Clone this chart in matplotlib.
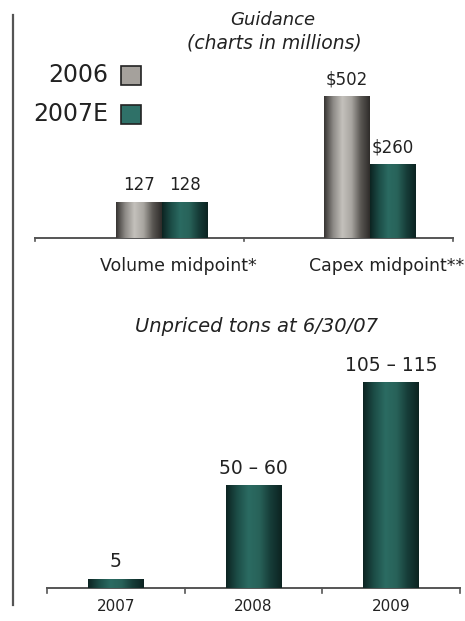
"""Guidance and unpriced tons bar charts"""

#%% Importing modules
import numpy as np
import matplotlib
matplotlib.use('Agg')
import matplotlib.pyplot as plt
from matplotlib.colors import LinearSegmentedColormap
from matplotlib.lines import Line2D
from matplotlib.patches import Rectangle

plt.rcParams['font.family'] = ['DejaVu Sans']

#%% Data
guidance_groups = ['Volume midpoint*', 'Capex midpoint**']
vals_2006 = [127, 502]
vals_2007e = [128, 260]
text_2006 = ['127', '$502']
text_2007e = ['128', '$260']

years = ['2007', '2008', '2009']
tons_low = [5, 50, 105]
tons_high = [5, 60, 115]
tons_text = ['5', '50 \u2013 60', '105 \u2013 115']

#%% Colours
gray_cmap = LinearSegmentedColormap.from_list(
    'gray_cyl', ['#363331', '#8d8a86', '#c4c1bc', '#a8a5a0', '#5a5753', '#2e2b29'])
teal_cmap = LinearSegmentedColormap.from_list(
    'teal_cyl', ['#0c2321', '#1c4d47', '#2b6b62', '#286259', '#163c38', '#0c2321'])
text_col = '#222222'
axis_col = '#555555'


def shade_bars(ax, bars, cmap):
    # paint a horizontal gradient inside each bar so it looks like a cylinder
    grad = np.linspace(0, 1, 256).reshape(1, -1)
    for b in bars:
        x0, y0 = b.get_x(), b.get_y()
        w, h = b.get_width(), b.get_height()
        im = ax.imshow(grad, cmap=cmap, aspect='auto',
                       extent=(x0, x0 + w, y0, y0 + h), zorder=3)
        im.set_clip_path(b)


def style_axis(ax):
    for s in ['top', 'right', 'left']:
        ax.spines[s].set_visible(False)
    ax.spines['bottom'].set_color(axis_col)
    ax.spines['bottom'].set_linewidth(1.4)
    ax.set_yticks([])
    ax.tick_params(axis='x', which='both', length=0, colors=text_col)


#%% Figure
fig = plt.figure(figsize=(4.65, 6.21), dpi=100)

# left rule
fig.add_artist(Line2D([13 / 465, 13 / 465], [1 - 15 / 621, 1 - 605 / 621],
                      color=axis_col, lw=1.6))

#%% Top chart: guidance
ax1 = fig.add_axes([35 / 465, 1 - 238 / 621, 418 / 465, 218 / 621])
centers = np.array([0.608, 1.603])
bw = 0.22
b06 = ax1.bar(centers - bw / 2, vals_2006, bw, color='#a09d98', zorder=2)
b07 = ax1.bar(centers + bw / 2, vals_2007e, bw, color='#1f524b', zorder=2)
shade_bars(ax1, b06, gray_cmap)
shade_bars(ax1, b07, teal_cmap)
ax1.set_xlim(0, 2)
ax1.set_ylim(0, 218 * 502 / 142)
style_axis(ax1)
ax1.set_xticks([])
for x in [0, 1, 2]:
    ax1.plot([x, x], [0, -10], color=axis_col, lw=1.2, clip_on=False)

for x, v, t in zip(centers - bw / 2, vals_2006, text_2006):
    ax1.text(x, v + 28, t, ha='center', va='bottom', fontsize=12, color=text_col)
for x, v, t in zip(centers + bw / 2, vals_2007e, text_2007e):
    ax1.text(x, v + 28, t, ha='center', va='bottom', fontsize=12, color=text_col)
for x, g in zip(centers + 0.08, guidance_groups):
    ax1.text(x, -100, g, ha='center', va='center', fontsize=12.5, color=text_col)

fig.text(273 / 465, 1 - 20 / 621, 'Guidance', style='italic', fontsize=13,
         ha='center', va='center', color=text_col)
fig.text(274 / 465, 1 - 43 / 621, '(charts in millions)', style='italic',
         fontsize=13.5, ha='center', va='center', color=text_col)

# legend
fig.text(108 / 465, 1 - 75 / 621, '2006', fontsize=17, ha='right',
         va='center', color=text_col)
fig.text(108 / 465, 1 - 114 / 621, '2007E', fontsize=17, ha='right',
         va='center', color=text_col)
fig.add_artist(Rectangle((121 / 465, 1 - 85 / 621), 20 / 465, 19 / 621,
                         facecolor='#a5a19c', edgecolor='#222222', lw=1.2))
fig.add_artist(Rectangle((121 / 465, 1 - 124 / 621), 20 / 465, 19 / 621,
                         facecolor='#2f7168', edgecolor='#222222', lw=1.2))

#%% Bottom chart: unpriced tons
ax2 = fig.add_axes([47 / 465, 1 - 588 / 621, 413 / 465, 248 / 621])
mids = (np.array(tons_low) + np.array(tons_high)) / 2
xpos = np.arange(len(years))
bars = ax2.bar(xpos, mids, 0.405, color='#1f524b', zorder=2)
shade_bars(ax2, bars, teal_cmap)
ax2.set_xlim(-0.5, 2.5)
ax2.set_ylim(0, 248 * 110 / 206)
style_axis(ax2)
ax2.set_xticks(xpos)
ax2.set_xticklabels(years, fontsize=11)
ax2.tick_params(axis='x', pad=8)
for x in [-0.5, 0.5, 1.5, 2.5]:
    ax2.plot([x, x], [0, -2.5], color=axis_col, lw=1.2, clip_on=False)

for x, v, t in zip(xpos, mids, tons_text):
    ax2.text(x, v + 4, t, ha='center', va='bottom', fontsize=13.5, color=text_col)

fig.text(256 / 465, 1 - 327 / 621, 'Unpriced tons at 6/30/07', style='italic',
         fontsize=14, ha='center', va='center', color=text_col)

fig.savefig('out.png', dpi=100, facecolor='white')
